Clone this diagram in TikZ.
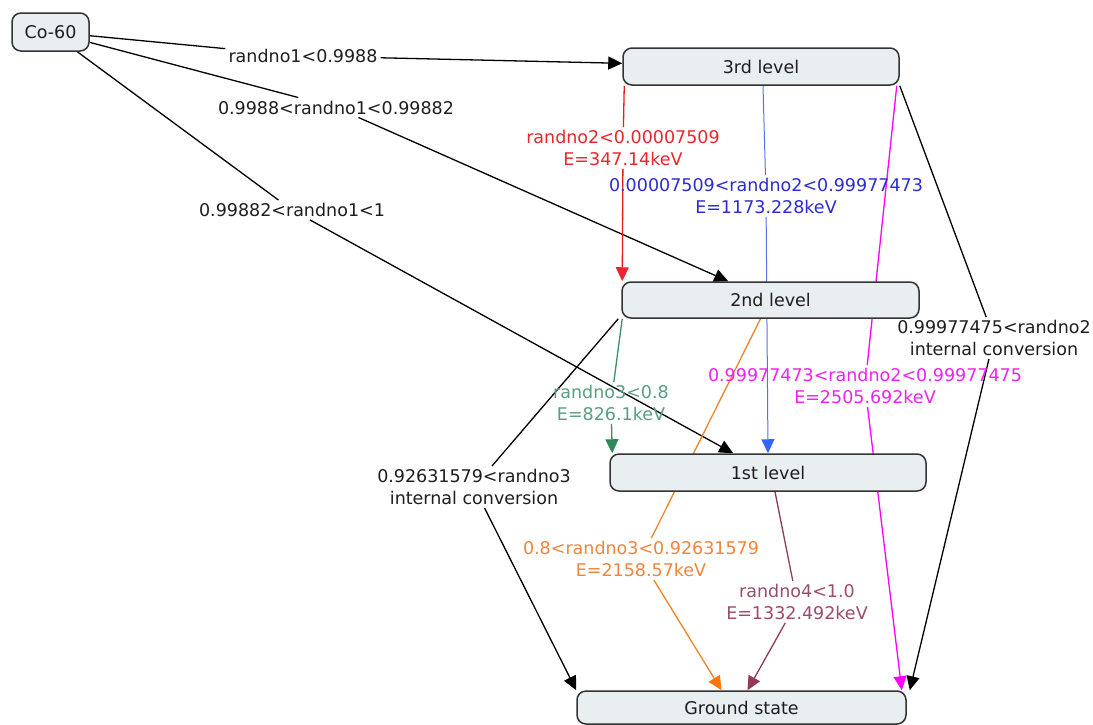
\documentclass[tikz,border=0pt]{standalone}
\usepackage{fontspec}
\setmainfont{DejaVu Sans}
\usetikzlibrary{arrows.meta,calc}
\definecolor{boxfill}{HTML}{E9EEF0}
\definecolor{boxline}{HTML}{333333}
\definecolor{txtdark}{HTML}{1E1E1E}
\definecolor{cred}{HTML}{E8262C}
\definecolor{credline}{HTML}{E41B1B}
\definecolor{cblue}{HTML}{2B2BD0}
\definecolor{cblueline}{HTML}{5A6EE6}
\definecolor{cbluearr}{HTML}{3366FF}
\definecolor{cmag}{HTML}{EE22EE}
\definecolor{cmagline}{HTML}{FF00FF}
\definecolor{cgreen}{HTML}{5A9E80}
\definecolor{cgreenline}{HTML}{3E8E6A}
\definecolor{cgreenarr}{HTML}{2E8B57}
\definecolor{corange}{HTML}{F0843C}
\definecolor{corangeline}{HTML}{F58220}
\definecolor{corangearr}{HTML}{FF7700}
\definecolor{cplum}{HTML}{9C4A70}
\definecolor{cplumline}{HTML}{8E3A60}
\definecolor{cplumarr}{HTML}{933A5C}
\pgfdeclarelayer{bg}
\pgfsetlayers{bg,main}
\newcommand{\fsz}{\fontsize{17.5}{22}\selectfont}
\begin{document}
\begin{tikzpicture}[x=1pt,y=-1pt,
  box/.style={draw=boxline, fill=boxfill, rounded corners=9pt, line width=1.5pt,
              inner sep=0pt, font=\fsz, text=txtdark},
  lab/.style={font=\fsz, align=center, inner sep=3pt, text=txtdark},
  con/.style={line width=1.3pt},
  arr/.style={-{Triangle[length=14pt,width=13pt]}},
]
\useasboundingbox (0,0) rectangle (1093,724);

% boxes
\node[box, minimum width=77pt, minimum height=38pt] (co) at (50.5,32) {Co-60};
\node[box, minimum width=276pt, minimum height=37pt] (n3) at (761,66.5) {3rd level};
\node[box, minimum width=297pt, minimum height=36pt] (n2) at (770.5,300) {2nd level};
\node[box, minimum width=316pt, minimum height=37pt] (n1) at (768,472.5) {1st level};
\node[box, minimum width=329pt, minimum height=33pt] (ng) at (741.5,707.5) {Ground state};

% labels
\node[lab] (L1) at (303,56) {randno1<0.9988};
\node[lab] (L2) at (336,107.5) {0.9988<randno1<0.99882};
\node[lab] (L3) at (292,210) {0.99882<randno1<1};
\node[lab, text=cred] (Lr) at (623,148) {randno2<0.00007509\\E=347.14keV};
\node[lab, text=cblue] (Lb) at (766,196) {0.00007509<randno2<0.99977473\\E=1173.228keV};
\node[lab, text=cmag] (Lm) at (865,386) {0.99977473<randno2<0.99977475\\E=2505.692keV};
\node[lab] (Lk) at (994,338) {0.99977475<randno2\\internal conversion};
\node[lab, text=cgreen] (Lg) at (611,403) {randno3<0.8\\E=826.1keV};
\node[lab] (Lc) at (474,487) {0.92631579<randno3\\internal conversion};
\node[lab, text=corange] (Lo) at (641,559) {0.8<randno3<0.92631579\\E=2158.57keV};
\node[lab, text=cplum] (Lp) at (797,602) {randno4<1.0\\E=1332.492keV};

\begin{pgfonlayer}{bg}
% from Co-60
\draw[con] (co) -- (L1);
\draw[con,arr] (L1) -- (n3);
\draw[con] (co) -- (L2);
\draw[con,arr] (L2) -- (n2);
\draw[con] (co) -- (L3);
\draw[con,arr] (L3) -- (n1);
% from 3rd level
\draw[con, credline] ([xshift=2pt]n3.south west) -- (Lr);
\draw[con, credline, -{Triangle[length=14pt,width=13pt,color=cred]}] (Lr) -- ([xshift=1pt]n2.north west);
\draw[line width=1pt, cblueline] ([xshift=2pt]n3.south) -- (Lb);
\draw[line width=1pt, cblueline, -{Triangle[length=14pt,width=13pt,color=cbluearr]}] (Lb) -- (n1.north);
\draw[con, cmagline] ([xshift=-3pt]n3.south east) -- (Lm);
\draw[con, cmagline, arr] (Lm) -- ([xshift=-5pt]ng.north east);
\draw[con] (n3.south east) -- (Lk);
\draw[con, arr] (Lk) -- ([xshift=3pt]ng.north east);
% from 2nd level
\draw[con, cgreenline] ([xshift=1pt]n2.south west) -- (Lg);
\draw[con, cgreenline, -{Triangle[length=14pt,width=13pt,color=cgreenarr]}] (Lg) -- ([xshift=3pt]n1.north west);
\draw[con] ([xshift=-3pt]n2.south west) -- (Lc);
\draw[con, arr] (Lc) -- (ng.north west);
\draw[con, corangeline] ([xshift=-10pt]n2.south) -- (Lo);
\draw[con, corangeline, -{Triangle[length=14pt,width=13pt,color=corangearr]}] (Lo) -- ([xshift=-20pt]ng.north);
% from 1st level
\draw[con, cplumline] ([xshift=7pt]n1.south) -- (Lp);
\draw[con, cplumline, -{Triangle[length=14pt,width=13pt,color=cplumarr]}] (Lp) -- ([xshift=6pt]ng.north);
\end{pgfonlayer}
\end{tikzpicture}
\end{document}
